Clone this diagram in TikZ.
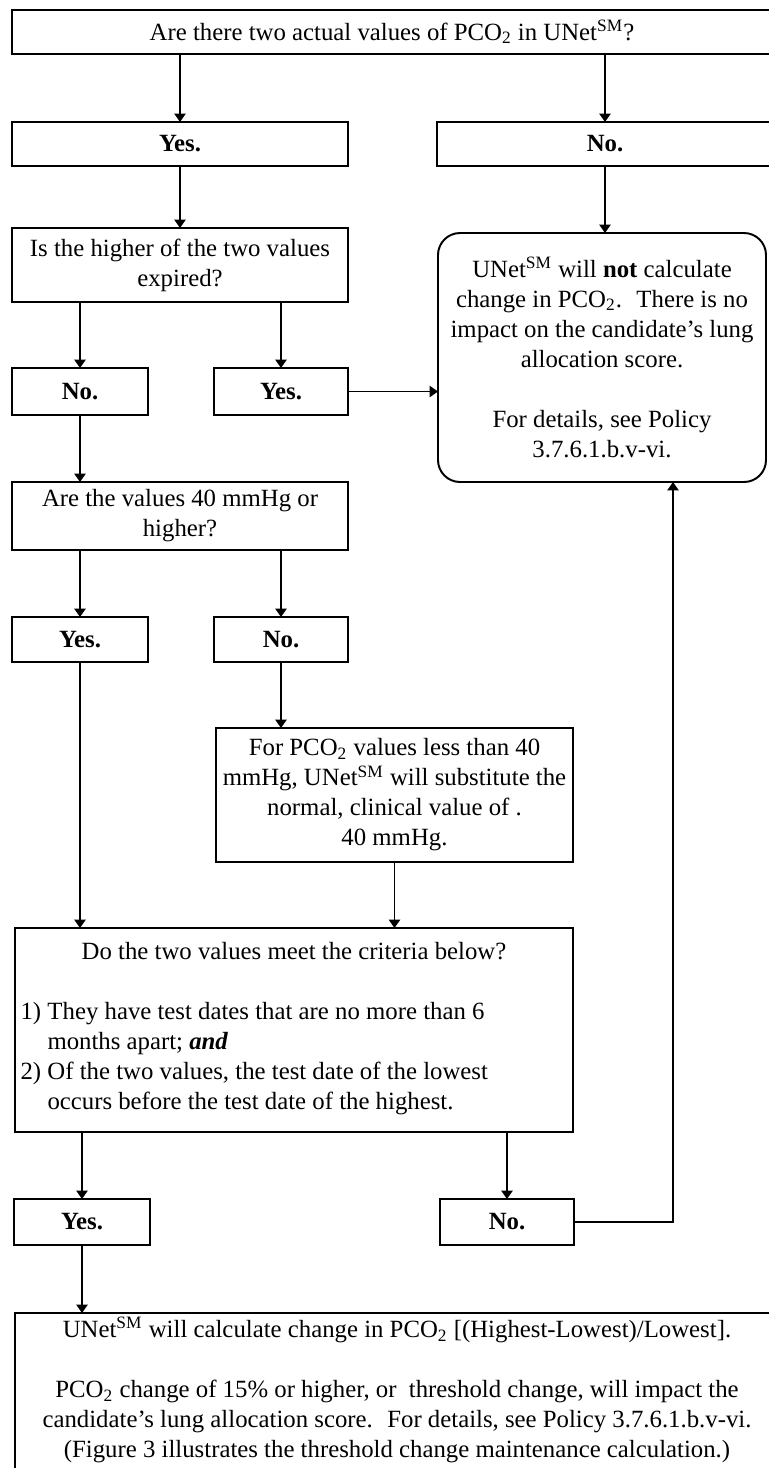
\documentclass[tikz,border=0pt]{standalone}
\usepackage{fontspec}
\setmainfont{Liberation Serif}
\usepackage{tikz}
\usetikzlibrary{shapes, arrows.meta, positioning}
\newlength{\unitpx}
\setlength{\unitpx}{0.46pt}
\newcommand{\flowfont}{\fontsize{11.4}{13.8}\selectfont}
\newcommand{\PCO}{PCO\textsubscript{2}}
\newcommand{\unet}{UNet\textsuperscript{SM}}
\tikzstyle{block}=[draw,fill=white,rectangle,line width=0.9pt,inner sep=2pt,outer sep=0pt]
\tikzstyle{answer}=[block,font=\flowfont\bfseries]
\tikzstyle{every node}=[font=\flowfont]

\begin{document}
\begin{tikzpicture}[x=\unitpx,y=-\unitpx,>={Triangle[width=5.2pt,length=3.9pt]},line width=0.9pt]
  \useasboundingbox (0,0) rectangle (769,1468);
  \node[block, anchor=north west, minimum width=760\unitpx, minimum height=44\unitpx] (start) at (12,10) {Are there two actual values of \PCO{} in \unet?};
  \node[answer, below right=68\unitpx and 0pt of start.south west, minimum width=336\unitpx, minimum height=44\unitpx] (yes1) {Yes.};
  \node[answer, below right=68\unitpx and 425\unitpx of start.south west, minimum width=336\unitpx, minimum height=44\unitpx] (no1) {No.};
  \node[block, align=center, below right=62\unitpx and 0pt of yes1.south west, minimum width=336\unitpx, minimum height=74\unitpx] (expired) {Is the higher of the two values\\ expired?};
  \node[block, align=center, rounded corners=22\unitpx, below right=67\unitpx and 1\unitpx of no1.south west, minimum width=328\unitpx, minimum height=249\unitpx] (stop) {\unet{} will \textbf{not} calculate\\ change in \PCO.~ There is no\\ impact on the candidate’s lung\\ allocation score.\\[\baselineskip] For details, see Policy\\ 3.7.6.1.b.v-vi.};
  \node[answer, below right=66\unitpx and 0pt of expired.south west, minimum width=136\unitpx, minimum height=47\unitpx] (no2) {No.};
  \node[answer, right=66\unitpx of no2, minimum width=134\unitpx, minimum height=47\unitpx] (yes2) {Yes.};
  \node[block, align=center, below right=67\unitpx and 0pt of no2.south west, minimum width=336\unitpx, minimum height=68\unitpx] (level) {Are the values 40 mmHg or\\ higher?};
  \node[answer, below right=67\unitpx and 0pt of level.south west, minimum width=136\unitpx, minimum height=45\unitpx] (yes3) {Yes.};
  \node[answer, right=66\unitpx of yes3, minimum width=134\unitpx, minimum height=45\unitpx] (no3) {No.};
  \node[block, align=center, below right=66\unitpx and 2\unitpx of no3.south west, minimum width=357\unitpx, minimum height=134\unitpx] (subst) {For \PCO{} values less than 40\\ mmHg, \unet{} will substitute the\\ normal, clinical value of .\\ 40 mmHg.};
  \node[block, align=center, below left=66\unitpx and 0pt of subst.south east, minimum width=558\unitpx, minimum height=204\unitpx] (crit) {Do the two values meet the criteria below?\\[\baselineskip]
    \begin{tabular}[t]{@{}p{27\unitpx}@{}p{520\unitpx}@{}}
      1) & They have test dates that are no more than 6\\
         & months apart; \textbf{\textit{and}}\\
      2) & Of the two values, the test date of the lowest\\
         & occurs before the test date of the highest.
    \end{tabular}};
  \node[answer, below right=67\unitpx and -1\unitpx of crit.south west, minimum width=136\unitpx, minimum height=46\unitpx] (yes4) {Yes.};
  \node[answer, below left=67\unitpx and -1\unitpx of crit.south east, minimum width=134\unitpx, minimum height=46\unitpx] (no4) {No.};
  \node[block, align=center, below right=68\unitpx and 1\unitpx of yes4.south west, minimum width=764\unitpx] (calc) {\unet{} will calculate change in \PCO{} [(Highest-Lowest)/Lowest].\\[\baselineskip] \PCO{} change of 15\% or higher, or~ threshold change, will impact the\\ candidate’s lung allocation score.~ For details, see Policy 3.7.6.1.b.v-vi.\\ (Figure 3 illustrates the threshold change maintenance calculation.)\\ \strut};
  \coordinate (back) at ([xshift=71\unitpx]stop.south);

  \draw[->] (start.south -| yes1.north) -- (yes1.north);
  \draw[->] (start.south -| no1.north) -- (no1.north);
  \draw[->] (yes1) -- (expired);
  \draw[->] (no1.south) -- (no1.south |- stop.north);
  \draw[->] (expired.south -| no2.north) -- (no2.north);
  \draw[->] (expired.south -| yes2.north) -- (yes2.north);
  \draw[->] (yes2.east) -- (yes2.east -| stop.west);
  \draw[->] (no2.south) -- (no2.south |- level.north);
  \draw[->] (level.south -| yes3.north) -- (yes3.north);
  \draw[->] (level.south -| no3.north) -- (no3.north);
  \draw[->] (no3.south) -- (no3.south |- subst.north);
  \draw[->] (yes3.south) -- (yes3.south |- crit.north);
  \draw[->] (subst.south) -- (subst.south |- crit.north);
  \draw[->] (crit.south -| yes4.north) -- (yes4.north);
  \draw[->] (crit.south -| no4.north) -- (no4.north);
  \draw[->] (no4.east) -| (back);
  \draw[->] (yes4.south) -- (yes4.south |- calc.north);
\end{tikzpicture}
\end{document}
